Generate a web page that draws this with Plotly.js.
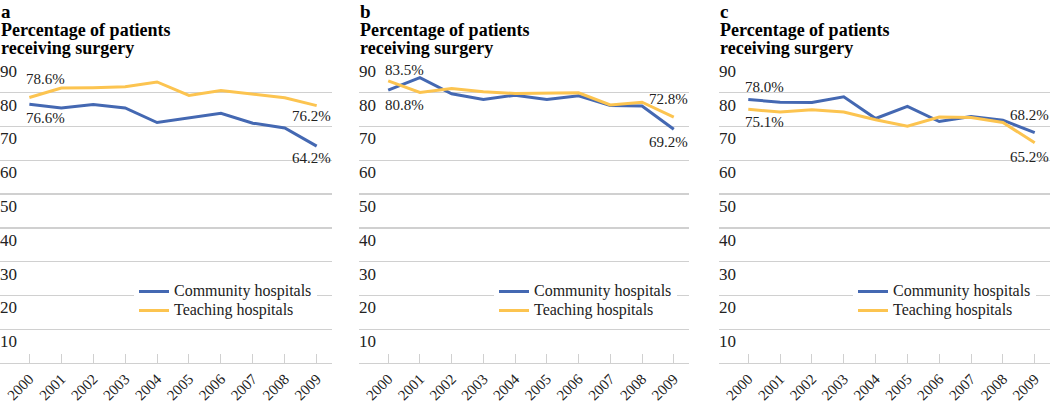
<!DOCTYPE html>
<html>
<head>
<meta charset="utf-8">
<script src="https://cdn.plot.ly/plotly-3.0.1.min.js"></script>
<style>
  html, body { margin: 0; padding: 0; background: #fff; }
  #chart { width: 1050px; height: 403px; }
</style>
</head>
<body>
<div id="chart"></div>
<script>
// ---------- data ----------
const years = ['2000', '2001', '2002', '2003', '2004', '2005', '2006', '2007', '2008', '2009'];
const seriesNames = ['Community hospitals', 'Teaching hospitals'];
const panelLetters = ['a', 'b', 'c'];
const panelTitleLines = ['Percentage of patients', 'receiving surgery'];
const yTickVals = [10, 20, 30, 40, 50, 60, 70, 80, 90];

const communityA = [76.6, 75.5, 76.5, 75.5, 71.2, 72.6, 73.9, 71.0, 69.6, 64.2];
const teachingA  = [78.6, 81.4, 81.5, 81.8, 83.2, 79.2, 80.7, 79.7, 78.5, 76.2];

const communityB = [80.8, 84.5, 79.7, 78.0, 79.3, 78.0, 79.1, 76.2, 76.1, 69.2];
const teachingB  = [83.5, 80.1, 81.3, 80.3, 79.8, 80.0, 80.0, 76.4, 77.2, 72.8];

const communityC = [78.0, 77.2, 77.1, 78.8, 72.4, 76.0, 71.5, 73.0, 71.9, 68.2];
const teachingC  = [75.1, 74.3, 75.0, 74.3, 72.0, 70.1, 72.8, 72.7, 71.2, 65.2];

// ---------- styles / layout config ----------
const FONT = 'Liberation Serif';
const COLORS = ['#4468B2', '#FCC450'];
const GRID = '#d0d0d0';
const W = 1050, H = 403, MT = 59, MB = 40;
const plotH = H - MT - MB;

const panels = [
  { comm: communityA, teach: teachingA, dom: [0, 332], legendLeft: 134,
    // [series index, point index, xshift, yshift]
    labels: [[1, 0, 16, 19], [0, 0, 16, -14], [1, 9, -5, -10], [0, 9, -5, -12]] },
  { comm: communityB, teach: teachingB, dom: [359, 689], legendLeft: 494,
    labels: [[1, 0, 16, 11], [0, 0, 16, -15], [1, 9, -5, 18], [0, 9, -5, -13]] },
  { comm: communityC, teach: teachingC, dom: [719, 1050], legendLeft: 853,
    labels: [[0, 0, 16, 13], [1, 0, 16, -13], [0, 9, -5, 18], [1, 9, -5, -14]] }
];

const py = (px) => 1 + (MT - px) / plotH; // pixel row above plot -> paper y

const data = [];
const layout = {
  width: W, height: H,
  margin: { l: 0, r: 0, t: MT, b: MB, pad: 0 },
  paper_bgcolor: '#fff', plot_bgcolor: '#fff',
  font: { family: FONT, color: '#222' },
  showlegend: true,
  annotations: []
};

panels.forEach((p, i) => {
  const n = i === 0 ? '' : String(i + 1);
  const xa = 'x' + n, ya = 'y' + n, lg = 'legend' + n;
  const series = [p.comm, p.teach];
  series.forEach((vals, s) => {
    data.push({
      type: 'scatter', mode: 'lines',
      x: years, y: vals,
      name: '<span style="font-size:16px">' + seriesNames[s] + '</span>',
      xaxis: xa, yaxis: ya, legend: lg,
      line: { color: COLORS[s], width: 3 },
      hoverinfo: 'skip'
    });
  });

  layout['xaxis' + n] = {
    type: 'category',
    domain: [p.dom[0] / W, p.dom[1] / W],
    range: [-0.92, 9.48],
    anchor: ya,
    showgrid: false, zeroline: false,
    showline: true, linecolor: GRID, linewidth: 1.3,
    ticks: 'inside', ticklen: 9, tickcolor: GRID, tickwidth: 1,
    tickangle: -45,
    tickfont: { family: FONT, size: 15, color: '#222' },
    fixedrange: true
  };
  layout['yaxis' + n] = {
    domain: [0, 1],
    range: [0, 90],
    anchor: xa,
    tickvals: yTickVals,
    ticktext: yTickVals.map(String),
    showgrid: true, gridcolor: GRID, gridwidth: 1.3,
    zeroline: false, showline: false, ticks: '',
    ticklabelposition: 'inside bottom',
    ticklabelstandoff: -3,
    tickfont: { family: FONT, size: 17, color: '#222' },
    fixedrange: true
  };
  layout[lg] = {
    x: p.legendLeft / W, xanchor: 'left',
    y: (H - MB - 277) / plotH, yanchor: 'top',
    bgcolor: '#fff', borderwidth: 0,
    font: { family: FONT, size: 12, color: '#222' },
    traceorder: 'normal'
  };

  // panel letter and title (one text block, tight line spacing)
  const titleText = ['<span style="font-size:19px">' + panelLetters[i] + '</span>']
    .concat(panelTitleLines.map(t => '<span style="font-size:18px">' + t + '</span>'))
    .map(t => '<b>' + t + '</b>').join('<br>');
  layout.annotations.push({
    xref: 'paper', yref: 'paper', x: p.dom[0] / W, y: py(0),
    xanchor: 'left', yanchor: 'top', align: 'left',
    showarrow: false, borderpad: 0,
    text: titleText,
    font: { family: FONT, size: 14, color: '#000' }
  });

  // data labels
  p.labels.forEach(([s, idx, xs, ys]) => {
    const v = series[s][idx];
    layout.annotations.push({
      xref: xa, yref: ya, x: idx, y: v,
      xanchor: 'center', yanchor: 'middle', showarrow: false,
      xshift: xs, yshift: ys,
      text: v.toFixed(1) + '%',
      font: { family: FONT, size: 15, color: '#222' }
    });
  });
});

Plotly.newPlot('chart', data, layout, { displayModeBar: false, staticPlot: true });
</script>
</body>
</html>
